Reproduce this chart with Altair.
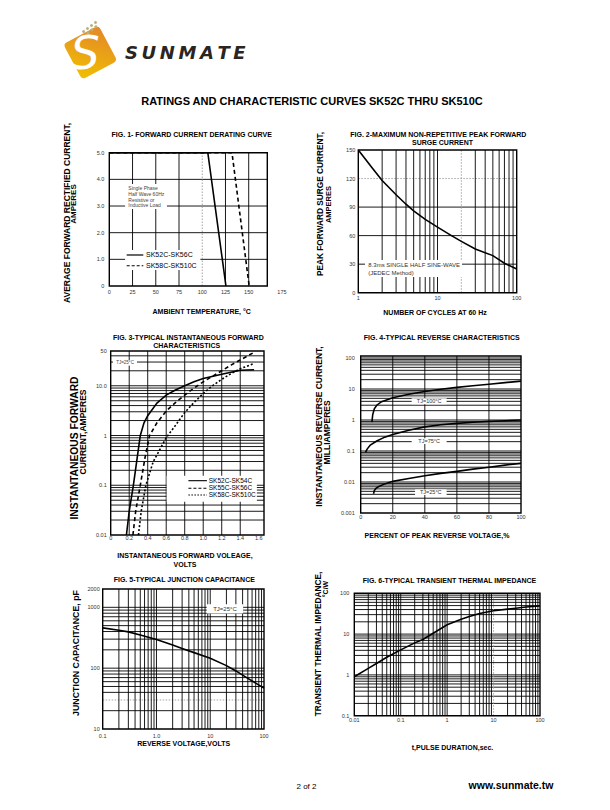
import altair as alt
import pandas as pd

OFF = 8
FONT = "Liberation Sans, Arial, Helvetica, sans-serif"
TICKC = "#333333"

# ---------------- data ----------------
# Fig 1 forward current derating
f1_temp_a = [0, 106, 125.5]
f1_amp_a = [5.0, 5.0, 0.0]
f1_temp_b = [0, 132, 150.5]
f1_amp_b = [5.0, 5.0, 0.0]
f1_xticks = [0, 25, 50, 75, 100, 125, 150]
f1_xlabels = ["0", "25", "50", "75", "100", "125", "150"]
f1_yticks = [0, 1, 2, 3, 4, 5]
f1_ylabels = ["0", "1.0", "2.0", "3.0", "4.0", "5.0"]

# Fig 2 surge current
f2_cycles = [1, 1.5, 2, 3, 4, 5, 7, 10, 15, 20, 30, 50, 70, 100]
f2_amps = [150, 131, 118, 103, 93, 86, 77, 69, 60, 54, 46, 39, 31, 25]
f2_xticks = [1, 10, 100]
f2_xlabels = ["1", "10", "100"]
f2_yticks = [0, 30, 60, 90, 120, 150]
f2_ylabels = ["0", "30", "60", "90", "120", "150"]

# Fig 3 forward characteristics
f3_v_a = [0.17, 0.2, 0.245, 0.29, 0.32, 0.36, 0.4, 0.5, 0.6, 0.7, 0.8, 0.9, 1.0, 1.2, 1.4, 1.55]
f3_i_a = [0.01, 0.03, 0.1, 0.4, 1.0, 1.8, 2.5, 4.5, 6.5, 8.2, 10, 12, 14, 17, 20.5, 21]
f3_v_b = [0.24, 0.27, 0.32, 0.37, 0.42, 0.5, 0.6, 0.7, 0.8, 0.9, 1.0, 1.1, 1.2, 1.3, 1.4, 1.55]
f3_i_b = [0.01, 0.03, 0.1, 0.35, 1.0, 1.8, 3.1, 4.6, 6.5, 9, 12, 15.5, 20, 26, 33, 47]
f3_v_c = [0.30, 0.33, 0.38, 0.46, 0.6, 0.7, 0.8, 0.9, 1.0, 1.1, 1.2, 1.3, 1.4, 1.55]
f3_i_c = [0.01, 0.03, 0.1, 0.3, 0.9, 1.6, 2.9, 4.6, 7, 10, 13.5, 17.5, 22, 28]
f3_xticks = [0, 0.2, 0.4, 0.6, 0.8, 1.0, 1.2, 1.4, 1.6]
f3_xlabels = ["0", "0.2", "0.4", "0.6", "0.8", "1.0", "1.2", "1.4", "1.6"]
f3_yticks = [0.01, 0.1, 1, 10, 50]
f3_ylabels = ["0.01", "0.1", "1", "10.0", "50"]

# Fig 4 reverse characteristics
f4_pct_100 = [7, 7.5, 8.5, 10, 13, 17, 20, 30, 40, 50, 60, 70, 80, 90, 100]
f4_ma_100 = [0.85, 1.5, 2.3, 3.0, 3.9, 4.6, 5.2, 6.8, 8.3, 9.8, 11.3, 12.8, 14.3, 16, 18]
f4_pct_75 = [3, 4, 6, 10, 15, 20, 30, 40, 50, 60, 70, 80, 90, 100]
f4_ma_75 = [0.09, 0.115, 0.155, 0.21, 0.28, 0.34, 0.47, 0.6, 0.7, 0.78, 0.85, 0.9, 0.95, 1.0]
f4_pct_25 = [8, 8.5, 9.5, 11, 15, 20, 30, 40, 50, 60, 70, 80, 90, 100]
f4_ma_25 = [0.0042, 0.0053, 0.0062, 0.007, 0.0087, 0.0105, 0.013, 0.016, 0.019, 0.022, 0.026, 0.03, 0.035, 0.04]
f4_xticks = [0, 20, 40, 60, 80, 100]
f4_xlabels = ["0", "20", "40", "60", "80", "100"]
f4_yticks = [0.001, 0.01, 0.1, 1, 10, 100]
f4_ylabels = ["0.001", "0.01", "0.1", "1", "10", "100"]

# Fig 5 junction capacitance
f5_volts = [0.1, 0.2, 0.3, 0.5, 1, 2, 3, 5, 10, 20, 30, 50, 100]
f5_pf = [460, 420, 395, 350, 295, 240, 210, 180, 145, 110, 90, 68, 47]
f5_xticks = [0.1, 1, 10, 100]
f5_xlabels = ["0.1", "1.0", "10", "100"]
f5_yticks = [10, 100, 1000, 2000]
f5_ylabels = ["10", "100", "1000", "2000"]

# Fig 6 transient thermal impedance
f6_t = [0.01, 0.02, 0.03, 0.05, 0.1, 0.2, 0.3, 0.5, 1, 2, 3, 5, 10, 20, 30, 50, 100]
f6_z = [0.9, 1.45, 1.9, 2.7, 4.1, 6.1, 7.4, 10.5, 17, 23, 27, 32, 37.5, 41, 43, 46, 49]
f6_xticks = [0.01, 0.1, 1, 10, 100]
f6_xlabels = ["0.01", "0.1", "1", "10", "100"]
f6_yticks = [0.1, 1, 10, 100]
f6_ylabels = ["0.1", "1", "10", "100"]


def decades(lo_exp, hi_exp, lo, hi):
    out = []
    for e in range(lo_exp, hi_exp + 1):
        for k in range(1, 10):
            v = round(k * 10 ** e, 6)
            if lo < v < hi:
                out.append(v)
    return out


# ---------------- helpers ----------------
def sc(dom, rng, log):
    kw = dict(domain=list(dom), range=[r - OFF for r in rng], nice=False, zero=False)
    if log:
        kw["type"] = "log"
    return alt.Scale(**kw)


class Panel:
    def __init__(self, xd, xr, xlog, yd, yr, ylog):
        self.xd, self.yd = xd, yd
        self.xs = sc(xd, xr, xlog)
        self.ys = sc(yd, yr, ylog)

    def X(self, f):
        return alt.X(f, type="quantitative", scale=self.xs, axis=None)

    def Y(self, f):
        return alt.Y(f, type="quantitative", scale=self.ys, axis=None)


def vlines(p, vals, color="black", w=0.9, dash=None):
    df = pd.DataFrame({"v": vals, "a": [p.yd[0]] * len(vals), "b": [p.yd[1]] * len(vals)})
    kw = dict(color=color, strokeWidth=w)
    if dash:
        kw["strokeDash"] = dash
    return alt.Chart(df).mark_rule(**kw).encode(x=p.X("v"), y=p.Y("a"), y2=alt.Y2("b"))


def hlines(p, vals, color="black", w=0.9, dash=None):
    df = pd.DataFrame({"v": vals, "a": [p.xd[0]] * len(vals), "b": [p.xd[1]] * len(vals)})
    kw = dict(color=color, strokeWidth=w)
    if dash:
        kw["strokeDash"] = dash
    return alt.Chart(df).mark_rule(**kw).encode(y=p.Y("v"), x=p.X("a"), x2=alt.X2("b"))


def frame(p):
    df = pd.DataFrame({"x0": [p.xd[0]], "x1": [p.xd[1]], "y0": [p.yd[0]], "y1": [p.yd[1]]})
    return alt.Chart(df).mark_rect(fillOpacity=0, stroke="black", strokeWidth=1.4).encode(
        x=p.X("x0"), x2=alt.X2("x1"), y=p.Y("y0"), y2=alt.Y2("y1"))


def whitebox(p, x0, x1, y0, y1):
    df = pd.DataFrame({"x0": [x0], "x1": [x1], "y0": [y0], "y1": [y1]})
    return alt.Chart(df).mark_rect(color="white").encode(
        x=p.X("x0"), x2=alt.X2("x1"), y=p.Y("y0"), y2=alt.Y2("y1"))


def curve(p, xs, ys, dash=None, w=1.6):
    df = pd.DataFrame({"x": xs, "y": ys, "i": list(range(len(xs)))})
    kw = dict(color="black", strokeWidth=w)
    if dash:
        kw["strokeDash"] = dash
    return alt.Chart(df).mark_line(**kw).encode(x=p.X("x"), y=p.Y("y"), order="i:Q")


def ptext(p, xs, ys, texts, size, align="left", weight="normal", dx=0, dy=0, color="black"):
    df = pd.DataFrame({"x": xs, "y": ys, "t": texts})
    return alt.Chart(df).mark_text(fontSize=size, align=align, baseline="middle", font=FONT,
                                   fontWeight=weight, color=color, dx=dx, dy=dy).encode(
        x=p.X("x"), y=p.Y("y"), text="t:N")


def xlabels(p, vals, labels, dy, dx=0):
    return ptext(p, vals, [p.yd[0]] * len(vals), labels, 5.5, align="center", dy=dy, dx=dx, color=TICKC)


def ylabels(p, vals, labels, dx):
    return ptext(p, [p.xd[0]] * len(vals), vals, labels, 5.5, align="right", dx=dx, color=TICKC)


def free(text, x, y, size, weight="bold", angle=0, align="center", font=FONT, color="black", style="normal"):
    df = pd.DataFrame({"t": [text]})
    kw = dict(fontSize=size, fontWeight=weight, align=align, baseline="middle", font=font,
              color=color, fontStyle=style)
    if angle:
        kw["angle"] = angle
    return alt.Chart(df).mark_text(**kw).encode(
        x=alt.value(x - OFF), y=alt.value(y - OFF), text="t:N")


def ytitle(text, x, y, size):
    return free(text, x, y, size, angle=270)


def dot(x, y, s=2.6, color="#b8b27c"):
    return alt.Chart(pd.DataFrame({"k": [0]})).mark_point(
        shape="square", size=s * s, filled=True, color=color, opacity=1, angle=332
    ).encode(x=alt.value(x - OFF), y=alt.value(y - OFF))


layers = []

# ---------------- header (logo) ----------------
ROUNDSQ = ("M -0.8 -1 L 0.8 -1 Q 1 -1 1 -0.8 L 1 0.8 Q 1 1 0.8 1 L -0.8 1 "
           "Q -1 1 -1 0.8 L -1 -0.8 Q -1 -1 -0.8 -1 Z")
grad = alt.LinearGradient(gradient="linear",
                          stops=[alt.GradientStop(color="#f0c000", offset=0),
                                 alt.GradientStop(color="#e4862a", offset=1)],
                          x1=0, y1=1, x2=1, y2=0)
layers.append(alt.Chart(pd.DataFrame({"k": [0]})).mark_point(
    shape=ROUNDSQ, size=40 * 40, angle=332, filled=True, fill=grad, strokeWidth=0, opacity=1
).encode(x=alt.value(90.3 - OFF), y=alt.value(52.5 - OFF)))
for dx_, dy_ in [(95.5, 22.5), (91.5, 25.5), (95.8, 26.8), (87.5, 28.5), (91.8, 29.8), (83.6, 31.6), (88, 33)]:
    layers.append(dot(dx_, dy_))
layers.append(free("S", 85, 55, 46, weight="normal", font="DejaVu Sans, sans-serif", color="white", style="italic"))
layers.append(free("S\u2009U\u2009N\u2009M\u2009A\u2009T\u2009E", 125, 53.5, 18, weight="bold", align="left",
                   font="DejaVu Sans, sans-serif", color="#2b2522", style="italic"))
layers.append(free("RATINGS AND CHARACTERISTIC CURVES SK52C THRU SK510C", 312, 101.5, 11))
layers.append(free("2 of 2", 306.5, 786.5, 8, weight="normal"))
layers.append(free("www.sunmate.tw", 511, 786, 10.5))

# ---------------- Fig 1 ----------------
P1 = Panel([0, 170], [109.3, 267.3], False, [0, 5], [286, 152.7], False)
p = P1
layers += [
    hlines(p, [1, 2, 3, 4]),
    vlines(p, [25, 50, 75, 125, 150]),
    vlines(p, [100], color="#9a9a9a", dash=[1.5, 1.5]),
    whitebox(p, 17, 62, 2.89, 3.83),
    whitebox(p, 17, 98, 0.6, 1.35),
    curve(p, f1_temp_a, f1_amp_a),
    curve(p, f1_temp_b, f1_amp_b, dash=[4, 3]),
    frame(p),
    ptext(p, [20.5] * 4, [3.665, 3.45, 3.226, 3.04],
          ["Single Phase", "Half Wave 60Hz", "Resistive or", "Inductive Load"], 5, color="#444444"),
    curve(p, [18.7, 36.6], [1.163, 1.163], w=1.2),
    curve(p, [18.7, 36.6], [0.76, 0.76], dash=[3, 2], w=1.2),
    ptext(p, [39.5, 39.5], [1.163, 0.76], ["SK52C-SK56C", "SK58C-SK510C"], 7),
    xlabels(p, f1_xticks, f1_xlabels, 6.3),
    xlabels(p, [175], ["175"], 6.3, dx=10),
    ylabels(p, f1_yticks, f1_ylabels, -5),
]
layers += [
    free("FIG. 1- FORWARD CURRENT DERATING CURVE", 191.7, 135, 7),
    free("AMBIENT TEMPERATURE, °C", 201.7, 311.7, 7),
    ytitle("AVERAGE FORWARD RECTIFIED CURRENT,", 66.5, 213, 8.5),
    ytitle("AMPERES", 74, 204, 8),
]

# ---------------- Fig 2 ----------------
P2 = Panel([1, 100], [358.3, 516.7], True, [0, 150], [292.7, 150], False)
p = P2
layers += [
    hlines(p, [30, 60, 90]),
    hlines(p, [120], color="#9a9a9a", dash=[1.5, 1.5]),
    vlines(p, [2, 3, 4, 5, 6, 7, 8, 9, 10, 30, 40, 50, 60, 70, 80, 90]),
    vlines(p, [20], color="#9a9a9a", dash=[1.5, 1.5]),
    whitebox(p, 1.215, 20.4, 16.5, 34.4),
    curve(p, f2_cycles, f2_amps),
    frame(p),
    ptext(p, [1.337, 1.337], [29.1, 21.0], ["8.3ms SINGLE HALF SINE-WAVE", "(JEDEC Method)"], 6, color="#333333"),
    xlabels(p, f2_xticks, f2_xlabels, 5.6),
    ylabels(p, f2_yticks, f2_ylabels, -3),
]
layers += [
    free("FIG. 2-MAXIMUM NON-REPETITIVE PEAK FORWARD", 438.3, 135, 7),
    free("SURGE CURRENT", 442.5, 142.7, 7),
    free("NUMBER OF CYCLES AT 60 Hz", 435, 312.7, 7),
    ytitle("PEAK  FORWARD SURGE CURRENT,", 321, 204, 8.3),
    ytitle("AMPERES", 328.5, 204.5, 7.5),
]

# ---------------- Fig 3 ----------------
P3 = Panel([0, 1.657], [110.7, 264], False, [0.01, 50], [535, 351], True)
p = P3
layers += [
    hlines(p, decades(-2, 1, 0.01, 50)),
    vlines(p, [0.2, 0.4, 0.6, 0.8, 1.0, 1.2, 1.4]),
    whitebox(p, 0.025, 0.284, 25.4, 33),
    whitebox(p, 0.605, 1.58, 0.0467, 0.155),
    curve(p, f3_v_a, f3_i_a),
    curve(p, f3_v_b, f3_i_b, dash=[4, 3]),
    curve(p, f3_v_c, f3_i_c, dash=[2, 2]),
    frame(p),
    ptext(p, [0.155], [29], ["TJ=25°C"], 4.5, align="center", color="#444444"),
    curve(p, [0.84, 1.04], [0.1236, 0.1236], w=1.1),
    curve(p, [0.84, 1.04], [0.0869, 0.0869], dash=[3, 2], w=1.1),
    curve(p, [0.84, 1.04], [0.0637, 0.0637], dash=[1.5, 1.5], w=1.1),
    ptext(p, [1.06] * 3, [0.1236, 0.0869, 0.0637], ["SK52C-SK54C", "SK55C-SK56C", "SK58C-SK510C"], 6.5),
    xlabels(p, f3_xticks, f3_xlabels, 2.8),
    ylabels(p, f3_yticks, f3_ylabels, -4),
]
layers += [
    free("FIG. 3-TYPICAL INSTANTANEOUS FORWARD", 188.3, 338.3, 7),
    free("CHARACTERISTICS", 186.7, 345.7, 7),
    free("INSTANTANEOUS FORWARD VOLEAGE,", 185, 555.7, 7),
    free("VOLTS", 185, 564.5, 7),
    ytitle("INSTANTANEOUS FORWARD", 75, 448, 10.3),
    ytitle("CURRENT,AMPERES", 82.5, 432, 8.5),
]

# ---------------- Fig 4 ----------------
P4 = Panel([0, 100], [360.7, 521], False, [0.001, 116], [513, 356], True)
p = P4
layers += [
    hlines(p, decades(-3, 2, 0.001, 116)),
    vlines(p, [20, 40, 60, 80]),
    whitebox(p, 31.8, 53.6, 3.2, 5.0),
    whitebox(p, 31.8, 53.6, 0.168, 0.257),
    whitebox(p, 33.9, 53.6, 0.0038, 0.0058),
    curve(p, f4_pct_100, f4_ma_100),
    curve(p, f4_pct_75, f4_ma_75),
    curve(p, f4_pct_25, f4_ma_25),
    frame(p),
    ptext(p, [42.7, 42.7, 43.7], [4.0, 0.208, 0.0047], ["TJ=100°C", "TJ=75°C", "TJ=25°C"], 5.5,
          align="center", color="#333333"),
    xlabels(p, f4_xticks, f4_xlabels, 4),
    ylabels(p, f4_yticks, f4_ylabels, -6),
]
layers += [
    free("FIG. 4-TYPICAL REVERSE CHARACTERISTICS", 441.7, 337.7, 7),
    free("PERCENT OF PEAK REVERSE VOLTAGE,%", 437, 535.7, 7),
    ytitle("INSTANTANEOUS REVERSE CURRENT,", 319, 426.5, 8.5),
    ytitle("MILLIAMPERES", 326.7, 432.5, 8.5),
]

# ---------------- Fig 5 ----------------
P5 = Panel([0.1, 100], [102.7, 264], True, [10, 2000], [729, 589], True)
p = P5
layers += [
    hlines(p, [v for v in decades(1, 3, 10, 2000) if v != 30]),
    hlines(p, [30], color="#9a9a9a", dash=[1.5, 1.5]),
    vlines(p, decades(-1, 1, 0.1, 100)),
    whitebox(p, 8.6, 41, 790, 1120),
    curve(p, f5_volts, f5_pf),
    frame(p),
    ptext(p, [18.8], [940], ["TJ=25°C"], 6, align="center", color="#333333"),
    xlabels(p, f5_xticks, f5_xlabels, 6.7),
    ylabels(p, f5_yticks, f5_ylabels, -3),
]
layers += [
    free("FIG. 5-TYPICAL JUNCTION CAPACITANCE", 184.3, 580, 7),
    free("REVERSE VOLTAGE,VOLTS", 183.7, 744.3, 7),
    ytitle("JUNCTION CAPACITANCE, pF", 75.5, 653, 8.8),
]

# ---------------- Fig 6 ----------------
P6 = Panel([0.01, 100], [354.3, 540], True, [0.1, 100], [715.7, 593.3], True)
p = P6
layers += [
    hlines(p, decades(-1, 2, 0.1, 100)),
    vlines(p, [v for v in decades(-2, 1, 0.01, 100) if v != 10]),
    vlines(p, [10], color="#9a9a9a", dash=[1.5, 1.5]),
    curve(p, f6_t, f6_z),
    frame(p),
    xlabels(p, f6_xticks, f6_xlabels, 4.3),
    ylabels(p, f6_yticks, f6_ylabels, -5),
]
layers += [
    free("FIG. 6-TYPICAL TRANSIENT THERMAL IMPEDANCE", 449.5, 580.7, 7),
    free("t,PULSE DURATION,sec.", 452.5, 748.3, 7),
    ytitle("TRANSIENT THERMAL IMPEDANCE,", 319, 644, 8.3),
    ytitle("°C/W", 325.5, 589, 7),
]

chart = alt.layer(*layers).resolve_scale(x="independent", y="independent").properties(
    width=594, height=794, autosize=alt.AutoSizeParams(type="none"), padding=0, background="white"
).configure_view(stroke=None)

chart.save("out.html", embed_options={"renderer": "svg", "actions": False})
